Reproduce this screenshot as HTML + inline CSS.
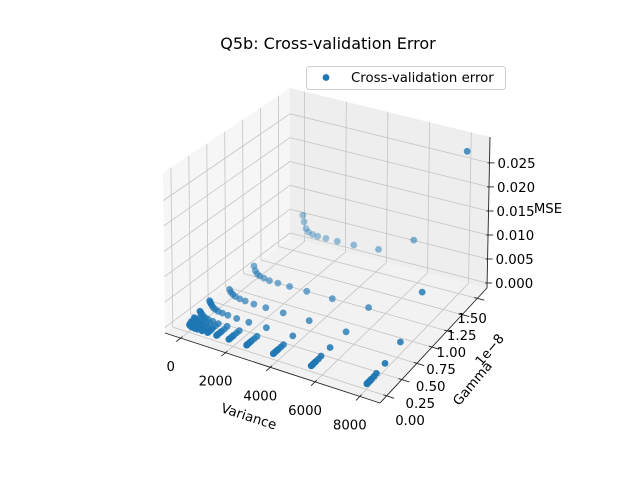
<!DOCTYPE html>
<html><head><meta charset="utf-8"><style>
body{margin:0;background:#fff}
svg text{font-family:"DejaVu Sans","Liberation Sans",sans-serif;fill:#000}
</style></head><body>
<svg id="chart" width="640" height="480" viewBox="0 0 640 480" xmlns="http://www.w3.org/2000/svg">
<rect width="640" height="480" fill="#fff"/>
<text x="328" y="49" font-size="16" text-anchor="middle">Q5b: Cross-validation Error</text>
<g id="panes"></g>
<g id="grid"></g>
<g id="axes"></g>
<g id="points"></g>
<g id="labels"></g>
<text x="249" y="421" font-size="13.3" text-anchor="middle" transform="rotate(18 249 416)">Variance</text>
<text x="472" y="388" font-size="13.3" text-anchor="middle" transform="rotate(-50 472 383)">Gamma</text>
<text x="490" y="354" font-size="13.3" text-anchor="middle" transform="rotate(-50 490 350)">1e−8</text>
<text x="548" y="213" font-size="13.3" text-anchor="middle">MSE</text>
<g>
<rect x="306.5" y="66.5" width="199" height="23" rx="3" fill="#fff" fill-opacity="0.8" stroke="#d0d0d0"/>
<circle cx="326" cy="77.5" r="3.4" fill="#1f77b4"/>
<text x="351" y="82" font-size="13.3">Cross-validation error</text>
</g>
</svg>
<script>
const variances = [8000,5500,3800,2600,1800,1250,850,600,400,280,190,130];
const gammas = [1.6,0.9,0.55,0.3,0.16,0.12,0.08,0.06,0.04,0.02,0.01,0.005];
const mse = [
 [0.0272,0.0060,0.0022,0.0018,0.0017,0.0017,0.0017,0.0018,0.0021,0.0027,0.0040,0.0053],
 [0.0070,0.0008,0.0005,0.0005,0.0005,0.0005,0.0005,0.0007,0.0009,0.0012,0.0017,0.0026],
 [0.0014,0.0002,0.0002,0.0002,0.0002,0.0002,0.0003,0.0004,0.0006,0.0009,0.0012,0.0017],
 [0.0003,0.0001,0.0001,0.0001,0.0001,0.0001,0.0002,0.0003,0.0004,0.0006,0.0008,0.0011],
 [0.0001,0.0001,0.0000,0.0000,0.0000,0.0001,0.0001,0.0002,0.0003,0.0004,0.0006,0.0008],
 [0.0000,0.0000,0.0000,0.0000,0.0000,0.0000,0.0001,0.0002,0.0002,0.0003,0.0005,0.0006],
 [0.0000,0.0000,0.0000,0.0000,0.0000,0.0000,0.0001,0.0001,0.0002,0.0003,0.0004,0.0005],
 [0.0000,0.0000,0.0000,0.0000,0.0000,0.0000,0.0000,0.0001,0.0001,0.0002,0.0003,0.0004],
 [0.0000,0.0000,0.0000,0.0000,0.0000,0.0000,0.0000,0.0001,0.0001,0.0002,0.0003,0.0003],
 [0.0000,0.0000,0.0000,0.0000,0.0000,0.0000,0.0000,0.0000,0.0001,0.0001,0.0002,0.0002],
 [0.0000,0.0000,0.0000,0.0000,0.0000,0.0000,0.0000,0.0000,0.0000,0.0001,0.0001,0.0001],
 [0.0000,0.0000,0.0000,0.0000,0.0000,0.0000,0.0000,0.0000,0.0000,0.0000,0.0001,0.0001]
];
const blobVariance = [90,90,90,90,90,90,60,60,60,60,60,60,40,40,40,40,40,40,20,20,20,20,20,20];
const blobGamma = [0.3,0.16,0.08,0.04,0.02,0.01,0.3,0.16,0.08,0.04,0.02,0.01,0.3,0.16,0.08,0.04,0.02,0.01,0.3,0.16,0.08,0.04,0.02,0.01];
const blobMse = [0.0014,0.0010,0.0007,0.0005,0.0003,0.0002,0.0016,0.0012,0.0008,0.0006,0.0004,0.0002,0.0018,0.0013,0.0009,0.0006,0.0004,0.0003,0.0020,0.0014,0.0010,0.0007,0.0005,0.0003];
const xTicks = [0,2000,4000,6000,8000];
const xTickLabels = ["0","2000","4000","6000","8000"];
const yTicks = [0,0.25,0.5,0.75,1.0,1.25,1.5];
const yTickLabels = ["0.00","0.25","0.50","0.75","1.00","1.25","1.50"];
const zTicks = [0,0.005,0.01,0.015,0.02,0.025];
const zTickLabels = ["0.000","0.005","0.010","0.015","0.020","0.025"];

const XL=-700,XH=8900,YL=-0.11,YH=1.66,ZL=-0.00104,ZH=0.0304;
function ax(v){return (v-XL)/(XH-XL);}
function ay(v){return (v-YL)/(YH-YL);}
function az(v){return (v-ZL)/(ZH-ZL);}
function proj(a,b,z){
  const fx=165+a*215+b*125+a*b*(-18);
  const fy=333+a*70-b*95+a*b*(-20);
  const h=160*(1-a)*(1-b)+162*a*(1-b)+151*a*b+150*(1-a)*b;
  const xs=z*(-2*(1-a)*(1-b)+3*a*b);
  return [fx+xs, fy-z*h];
}
const NS="http://www.w3.org/2000/svg";
function mk(tag,attrs,parent){const e=document.createElementNS(NS,tag);for(const k in attrs)e.setAttribute(k,attrs[k]);parent.appendChild(e);return e;}
function poly(pts){return pts.map(p=>p[0].toFixed(1)+","+p[1].toFixed(1)).join(" ");}
const panes=document.getElementById('panes'),grid=document.getElementById('grid'),axes=document.getElementById('axes'),pts=document.getElementById('points'),labels=document.getElementById('labels');

let p=mk('polygon',{points:poly([proj(0,0,0),proj(0,1,0),proj(0,1,1),proj(0,0,1)]),fill:'#f6f6f6'},panes);

p=mk('polygon',{points:poly([proj(0,1,0),proj(1,1,0),proj(1,1,1),proj(0,1,1)]),fill:'#eeeeee'},panes);

p=mk('polygon',{points:poly([proj(0,0,0),proj(1,0,0),proj(1,1,0),proj(0,1,0)]),fill:'#f2f2f2'},panes);


function line(g,p1,p2,color,w,name){
  const l=mk('line',{x1:p1[0].toFixed(1),y1:p1[1].toFixed(1),x2:p2[0].toFixed(1),y2:p2[1].toFixed(1),stroke:color,'stroke-width':w},g);
  
  
  return l;
}
const GC='#c4c4c4';
xTicks.forEach(t=>{const a=ax(t);
  line(grid,proj(a,0,0),proj(a,1,0),GC,0.8,'x-grid-line');
  line(grid,proj(a,1,0),proj(a,1,1),GC,0.8,'x-grid-line');});
yTicks.forEach(t=>{const b=ay(t);
  line(grid,proj(0,b,0),proj(1,b,0),GC,0.8,'y-grid-line');
  line(grid,proj(0,b,0),proj(0,b,1),GC,0.8,'y-grid-line');});
zTicks.forEach(t=>{const z=az(t);
  line(grid,proj(0,0,z),proj(0,1,z),GC,0.8,'z-grid-line');
  line(grid,proj(0,1,z),proj(1,1,z),GC,0.8,'z-grid-line');});

line(axes,proj(0,0,0),proj(1,0,0),'#222',0.9,'x-axis-line');
line(axes,proj(1,0,0),proj(1,1,0),'#222',0.9,'y-axis-line');
line(axes,proj(1,1,0),proj(1,1,1),'#222',0.9,'z-axis-line');

function txt(x,y,s,anchor,name){
  const t=mk('text',{x:x.toFixed(1),y:y.toFixed(1),'font-size':'13.3','text-anchor':anchor},labels);
  t.textContent=s;
  
  
}
xTicks.forEach((t,i)=>{const a=ax(t);
  line(axes,proj(a,0.015,0),proj(a,-0.035,0),'#222',0.9,'x-tick');
  const q=proj(a,0,0);txt(q[0]-10,q[1]+33,xTickLabels[i],'middle','x-tick-label');});
yTicks.forEach((t,i)=>{const b=ay(t);
  line(axes,proj(0.985,b,0),proj(1.035,b,0),'#222',0.9,'y-tick');
  const f=t/1.5;
  txt(410+f*62,425-f*102,yTickLabels[i],'middle','y-tick-label');});
zTicks.forEach((t,i)=>{const z=az(t);
  const q=proj(1,1,z);
  line(axes,[q[0]-2,q[1]],[q[0]+5,q[1]],'#222',0.9,'z-tick');
  txt(q[0]+8,q[1]+5,zTickLabels[i],'start','z-tick-label');});

// points
const list=[];
function addPoint(v,g,m){
  const a=ax(v),b=ay(g),z=az(m);
  const d=-(0.433*0.6247*a-0.75*0.6247*b+0.5*0.4685*z);
  list.push({a,b,z,d});
}
gammas.forEach((g,gi)=>variances.forEach((v,vi)=>addPoint(v,g,mse[gi][vi])));
blobVariance.forEach((v,i)=>addPoint(v,blobGamma[i],blobMse[i]));
let dmin=Infinity,dmax=-Infinity;list.forEach(o=>{dmin=Math.min(dmin,o.d);dmax=Math.max(dmax,o.d);});
list.sort((p1,p2)=>p2.d-p1.d);
list.forEach(o=>{
  const q=proj(o.a,o.b,o.z);
  const alpha=1-0.6*(o.d-dmin)/(dmax-dmin);
  const c=mk('circle',{cx:q[0].toFixed(1),cy:q[1].toFixed(1),r:3.4,fill:'#1f77b4','fill-opacity':alpha.toFixed(2)},pts);
  
  
});
</script>
</body></html>
